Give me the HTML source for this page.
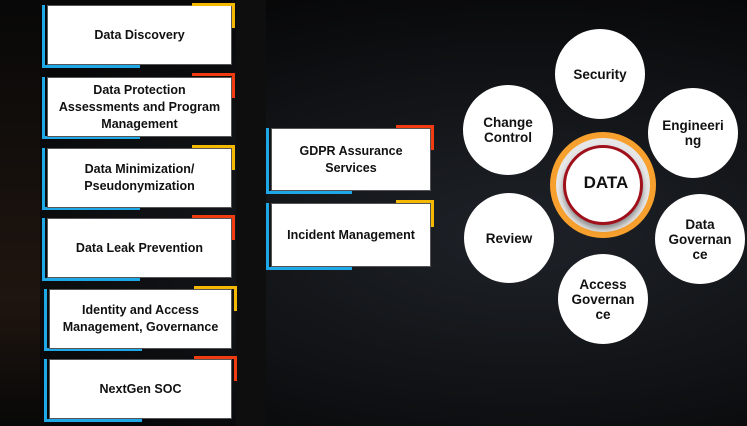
<!DOCTYPE html>
<html><head><meta charset="utf-8"><style>
body{margin:0;width:747px;height:426px;overflow:hidden;background:#070708;font-family:"Liberation Sans",sans-serif;position:relative}
.bg{position:absolute;inset:0;background:radial-gradient(ellipse at 70% 55%,#1e2228 0%,#111316 45%,#070708 80%),#070708}
.bg2{position:absolute;left:0;top:0;width:40px;height:426px;background:linear-gradient(180deg,#080808,#1f150f 70%,#080808)}
.trap{position:absolute;left:236px;top:0;width:30px;height:426px;background:#0e0e0e}
.box{position:absolute;background:#fff;border:1px solid #555;box-sizing:border-box;display:flex;align-items:center;justify-content:center;text-align:center;font-family:"Liberation Sans",sans-serif;font-size:12.5px;font-weight:bold;color:#111;line-height:17px}
.bl{position:absolute;background:#1ea8e8}
.cr{position:absolute;border-top:3px solid;border-right:3px solid;box-sizing:border-box}
.c{position:absolute;width:90px;height:90px;border-radius:50%;background:#fff;display:flex;align-items:center;justify-content:center;text-align:center;font-size:13.5px;font-weight:bold;color:#111;line-height:15px}
</style></head><body>
<div class="bg"></div><div class="bg2"></div><div class="trap"></div>

<div class="bl" style="left:42px;top:5px;width:3px;height:63px"></div><div class="bl" style="left:42px;top:65px;width:98px;height:3px"></div>
<div class="box" style="left:47px;top:5px;width:185px;height:60px">Data Discovery</div>
<div class="cr" style="left:192px;top:3px;width:43px;height:25px;border-color:#f5b800"></div>

<div class="bl" style="left:42px;top:77px;width:3px;height:62px"></div><div class="bl" style="left:42px;top:136px;width:98px;height:3px"></div>
<div class="box" style="left:47px;top:77px;width:185px;height:60px">Data Protection<br>Assessments and Program<br>Management</div>
<div class="cr" style="left:192px;top:73px;width:43px;height:25px;border-color:#f03c10"></div>

<div class="bl" style="left:42px;top:148px;width:3px;height:62px"></div><div class="bl" style="left:42px;top:207px;width:98px;height:3px"></div>
<div class="box" style="left:47px;top:148px;width:185px;height:60px">Data Minimization/<br>Pseudonymization</div>
<div class="cr" style="left:192px;top:145px;width:43px;height:25px;border-color:#f5b800"></div>

<div class="bl" style="left:42px;top:218px;width:3px;height:63px"></div><div class="bl" style="left:42px;top:278px;width:98px;height:3px"></div>
<div class="box" style="left:47px;top:218px;width:185px;height:60px">Data Leak Prevention</div>
<div class="cr" style="left:192px;top:215px;width:43px;height:25px;border-color:#f03c10"></div>

<div class="bl" style="left:44px;top:289px;width:3px;height:62px"></div><div class="bl" style="left:44px;top:348px;width:98px;height:3px"></div>
<div class="box" style="left:49px;top:289px;width:183px;height:60px">Identity and Access<br>Management, Governance</div>
<div class="cr" style="left:194px;top:286px;width:43px;height:25px;border-color:#f5b800"></div>

<div class="bl" style="left:44px;top:359px;width:3px;height:63px"></div><div class="bl" style="left:44px;top:419px;width:98px;height:3px"></div>
<div class="box" style="left:49px;top:359px;width:183px;height:60px">NextGen SOC</div>
<div class="cr" style="left:194px;top:356px;width:43px;height:25px;border-color:#f03c10"></div>

<div class="bl" style="left:266px;top:128px;width:3px;height:66px"></div><div class="bl" style="left:266px;top:191px;width:86px;height:3px"></div>
<div class="box" style="left:271px;top:128px;width:160px;height:63px">GDPR Assurance<br>Services</div>
<div class="cr" style="left:396px;top:125px;width:38px;height:25px;border-color:#f03c10"></div>

<div class="bl" style="left:266px;top:203px;width:3px;height:67px"></div><div class="bl" style="left:266px;top:267px;width:86px;height:3px"></div>
<div class="box" style="left:271px;top:203px;width:160px;height:64px">Incident Management</div>
<div class="cr" style="left:396px;top:200px;width:38px;height:27px;border-color:#f5b800"></div>

<div class="c" style="left:555px;top:29px">Security</div>
<div class="c" style="left:463px;top:85px">Change<br>Control</div>
<div class="c" style="left:648px;top:88px">Engineeri<br>ng</div>
<div class="c" style="left:464px;top:193px">Review</div>
<div class="c" style="left:655px;top:194px">Data<br>Governan<br>ce</div>
<div class="c" style="left:558px;top:254px">Access<br>Governan<br>ce</div>

<div style="position:absolute;left:550px;top:132px;width:106px;height:106px;border-radius:50%;background:#f7a02e"></div>
<div style="position:absolute;left:556px;top:138px;width:94px;height:94px;border-radius:50%;background:#e6e6e6"></div>
<div style="position:absolute;left:563px;top:145px;width:74px;height:74px;border-radius:50%;background:#fff;border:3px solid #a0101a;box-shadow:0 4px 6px rgba(0,0,0,.4)"></div>
<div style="position:absolute;left:566px;top:173px;width:80px;text-align:center;font-size:17px;font-weight:bold;color:#111">DATA</div>
</body></html>
